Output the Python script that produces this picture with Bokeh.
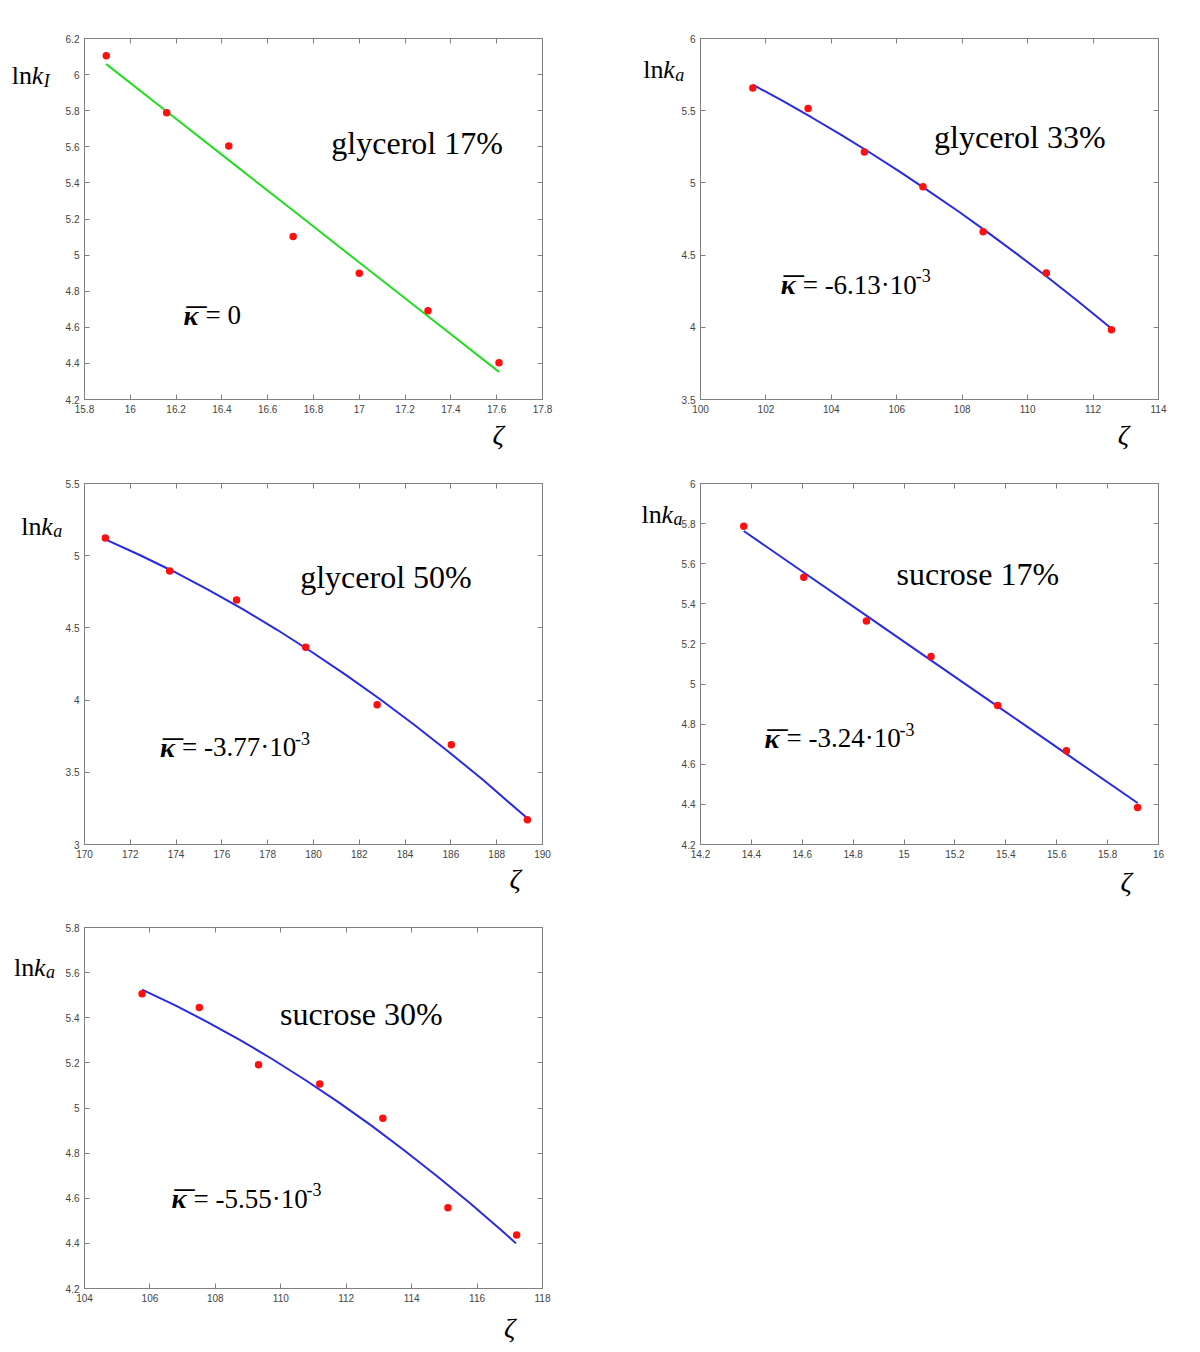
from bokeh.plotting import figure
from bokeh.models import Range1d, FixedTicker, LinearAxis, Label, GridBox
from bokeh.embed import file_html
from bokeh.resources import INLINE

# ---------------- data ----------------
# glycerol 17 %
g17_zeta = [15.895, 16.159, 16.43, 16.711, 17.0, 17.3, 17.61]
g17_lnk = [6.104, 5.789, 5.604, 5.103, 4.90, 4.692, 4.403]
g17_fit_zeta = [15.895, 16.159, 16.43, 16.711, 17.0, 17.3, 17.61]
g17_fit = [6.058, 5.796, 5.526, 5.247, 4.959, 4.661, 4.353]
g17_xticks = [15.8, 16, 16.2, 16.4, 16.6, 16.8, 17, 17.2, 17.4, 17.6, 17.8]
g17_xlabels = ["15.8", "16", "16.2", "16.4", "16.6", "16.8", "17", "17.2", "17.4", "17.6", "17.8"]
g17_yticks = [4.2, 4.4, 4.6, 4.8, 5, 5.2, 5.4, 5.6, 5.8, 6, 6.2]
g17_ylabels = ["4.2", "4.4", "4.6", "4.8", "5", "5.2", "5.4", "5.6", "5.8", "6", "6.2"]

# glycerol 33 %
g33_zeta = [101.6, 103.29, 105.01, 106.8, 108.64, 110.57, 112.56]
g33_lnk = [5.658, 5.515, 5.214, 4.974, 4.662, 4.376, 3.983]
g33_fit_zeta = [101.6, 102.5, 103.4, 104.3, 105.2, 106.1, 107.0, 107.9, 108.8, 109.7, 110.6, 111.5, 112.57]
g33_fit = [5.68, 5.569, 5.453, 5.332, 5.207, 5.076, 4.940, 4.800, 4.654, 4.503, 4.348, 4.187, 3.99]
g33_xticks = [100, 102, 104, 106, 108, 110, 112, 114]
g33_xlabels = ["100", "102", "104", "106", "108", "110", "112", "114"]
g33_yticks = [3.5, 4, 4.5, 5, 5.5, 6]
g33_ylabels = ["3.5", "4", "4.5", "5", "5.5", "6"]

# glycerol 50 %
g50_zeta = [170.91, 173.72, 176.64, 179.66, 182.78, 186.02, 189.34]
g50_lnk = [5.123, 4.894, 4.694, 4.366, 3.968, 3.69, 3.171]
g50_fit_zeta = [170.91, 172.41, 173.91, 175.41, 176.91, 178.41, 179.91, 181.41, 182.91, 184.41, 185.91, 187.41, 189.34]
g50_fit = [5.113, 5.005, 4.889, 4.764, 4.630, 4.487, 4.335, 4.175, 4.006, 3.828, 3.641, 3.446, 3.181]
g50_xticks = [170, 172, 174, 176, 178, 180, 182, 184, 186, 188, 190]
g50_xlabels = ["170", "172", "174", "176", "178", "180", "182", "184", "186", "188", "190"]
g50_yticks = [3, 3.5, 4, 4.5, 5, 5.5]
g50_ylabels = ["3", "3.5", "4", "4.5", "5", "5.5"]

# sucrose 17 %
s17_zeta = [14.37, 14.606, 14.852, 15.106, 15.368, 15.638, 15.918]
s17_lnk = [5.787, 5.532, 5.315, 5.138, 4.893, 4.668, 4.385]
s17_fit_zeta = [14.37, 14.606, 14.852, 15.106, 15.368, 15.638, 15.918]
s17_fit = [5.763, 5.556, 5.341, 5.118, 4.889, 4.652, 4.407]
s17_xticks = [14.2, 14.4, 14.6, 14.8, 15, 15.2, 15.4, 15.6, 15.8, 16]
s17_xlabels = ["14.2", "14.4", "14.6", "14.8", "15", "15.2", "15.4", "15.6", "15.8", "16"]
s17_yticks = [4.2, 4.4, 4.6, 4.8, 5, 5.2, 5.4, 5.6, 5.8, 6]
s17_ylabels = ["4.2", "4.4", "4.6", "4.8", "5", "5.2", "5.4", "5.6", "5.8", "6"]

# sucrose 30 %
s30_zeta = [105.76, 107.51, 109.32, 111.19, 113.12, 115.11, 117.21]
s30_lnk = [5.506, 5.445, 5.192, 5.106, 4.955, 4.558, 4.437]
s30_fit_zeta = [105.76, 106.76, 107.76, 108.76, 109.76, 110.76, 111.76, 112.76, 113.76, 114.76, 115.76, 116.76, 117.19]
s30_fit = [5.525, 5.456, 5.381, 5.301, 5.215, 5.123, 5.026, 4.923, 4.814, 4.700, 4.581, 4.456, 4.40]
s30_xticks = [104, 106, 108, 110, 112, 114, 116, 118]
s30_xlabels = ["104", "106", "108", "110", "112", "114", "116", "118"]
s30_yticks = [4.2, 4.4, 4.6, 4.8, 5, 5.2, 5.4, 5.6, 5.8]
s30_ylabels = ["4.2", "4.4", "4.6", "4.8", "5", "5.2", "5.4", "5.6", "5.8"]

titles = ["glycerol 17%", "glycerol 33%", "glycerol 50%", "sucrose 17%", "sucrose 30%"]
kappa_values = ["0", "-6.13\u00b710", "-3.77\u00b710", "-3.24\u00b710", "-5.55\u00b710"]
kappa_exps = [None, "-3", "-3", "-3", "-3"]
ylabel_subs = ["I", "a", "a", "a", "a"]
fit_colors = ["#22dd22", "#2a2ae0", "#2a2ae0", "#2a2ae0", "#2a2ae0"]

# ---------------- layout / styling ----------------
FRAME_W = 458
FRAME_H = 361
SERIF = "Liberation Serif"
AX_COL = "#808080"

panels = [
    dict(zeta=g17_zeta, lnk=g17_lnk, fz=g17_fit_zeta, fit=g17_fit, xt=g17_xticks, xl=g17_xlabels, yt=g17_yticks, yl=g17_ylabels,
         title_pos=(0.539, 0.71), kappa_pos=(0.216, 0.233), ylab_pos=(-0.159, 0.897), zeta_pos=(0.891, -0.097)),
    dict(zeta=g33_zeta, lnk=g33_lnk, fz=g33_fit_zeta, fit=g33_fit, xt=g33_xticks, xl=g33_xlabels, yt=g33_yticks, yl=g33_ylabels,
         title_pos=(0.510, 0.726), kappa_pos=(0.175, 0.318), ylab_pos=(-0.125, 0.914), zeta_pos=(0.911, -0.097)),
    dict(zeta=g50_zeta, lnk=g50_lnk, fz=g50_fit_zeta, fit=g50_fit, xt=g50_xticks, xl=g50_xlabels, yt=g50_yticks, yl=g50_ylabels,
         title_pos=(0.471, 0.741), kappa_pos=(0.165, 0.269), ylab_pos=(-0.138, 0.882), zeta_pos=(0.928, -0.093)),
    dict(zeta=s17_zeta, lnk=s17_lnk, fz=s17_fit_zeta, fit=s17_fit, xt=s17_xticks, xl=s17_xlabels, yt=s17_yticks, yl=s17_ylabels,
         title_pos=(0.428, 0.748), kappa_pos=(0.140, 0.294), ylab_pos=(-0.129, 0.915), zeta_pos=(0.917, -0.102)),
    dict(zeta=s30_zeta, lnk=s30_lnk, fz=s30_fit_zeta, fit=s30_fit, xt=s30_xticks, xl=s30_xlabels, yt=s30_yticks, yl=s30_ylabels,
         title_pos=(0.427, 0.761), kappa_pos=(0.19, 0.248), ylab_pos=(-0.154, 0.89), zeta_pos=(0.916, -0.107)),
]

# grid cell of each panel and figure borders (Bokeh's page template has no body margin)
cells = [(0, 0), (0, 1), (1, 0), (1, 1), (2, 0)]
col_widths = [600, 592]
col_border_left = [84, 100]
row_border_top = [38, 37, 36]
row_border_bottom = [47, 47, 58]
row_heights = [t + FRAME_H + b for t, b in zip(row_border_top, row_border_bottom)]


def style_axis(ax, ticks, labels, show_labels):
    ax.ticker = FixedTicker(ticks=ticks)
    ax.major_label_overrides = {t: l for t, l in zip(ticks, labels)}
    ax.axis_line_color = AX_COL
    ax.axis_line_width = 1
    ax.major_tick_line_color = AX_COL
    ax.major_tick_in = 5
    ax.major_tick_out = 0
    ax.minor_tick_line_color = None
    ax.major_label_text_font = "Liberation Sans"
    ax.major_label_text_font_size = "10px"
    ax.major_label_standoff = 5
    ax.major_label_text_color = "#444444" if show_labels else None


def make_panel(i):
    d = panels[i]
    r, c = cells[i]
    bl = col_border_left[c]
    bt = row_border_top[r]
    w = col_widths[c]
    x0, x1 = d["xt"][0], d["xt"][-1]
    y0, y1 = d["yt"][0], d["yt"][-1]
    p = figure(width=w, height=row_heights[r], output_backend="svg", toolbar_location=None,
               x_range=Range1d(x0, x1), y_range=Range1d(y0, y1),
               min_border_left=bl, min_border_right=w - bl - FRAME_W,
               min_border_top=bt, min_border_bottom=row_border_bottom[r])
    p.grid.visible = False
    p.outline_line_color = AX_COL
    p.background_fill_color = "white"
    p.border_fill_color = "white"
    style_axis(p.xaxis[0], d["xt"], d["xl"], True)
    style_axis(p.yaxis[0], d["yt"], d["yl"], True)
    top = LinearAxis()
    style_axis(top, d["xt"], d["xl"], False)
    p.add_layout(top, "above")
    right = LinearAxis()
    style_axis(right, d["yt"], d["yl"], False)
    p.add_layout(right, "right")

    p.line(d["fz"], d["fit"], line_color=fit_colors[i], line_width=2)
    p.scatter(d["zeta"], d["lnk"], size=7.5, fill_color="#ff1010", line_color=None)

    def pos(f):
        return x0 + f[0] * (x1 - x0), y0 + f[1] * (y1 - y0)

    # title
    tx, ty = pos(d["title_pos"])
    p.add_layout(Label(x=tx, y=ty, text=titles[i], text_font=SERIF, text_font_size="32px",
                       text_baseline="alphabetic", text_align="left", text_color="black"))
    # kappa with overbar
    kx, ky = pos(d["kappa_pos"])
    p.add_layout(Label(x=kx, y=ky, text="\u03ba", text_font=SERIF, text_font_size="28px",
                       text_font_style="bold italic", text_baseline="alphabetic", text_align="left",
                       text_color="black"))
    p.add_layout(Label(x=kx, y=ky, x_offset=3, y_offset=-8, text="\u00af", text_font=SERIF,
                       text_font_size="40px", text_baseline="alphabetic", text_align="left",
                       text_color="black"))
    p.add_layout(Label(x=kx, y=ky, x_offset=22, text="= " + kappa_values[i], text_font=SERIF,
                       text_font_size="27px", text_baseline="alphabetic", text_align="left",
                       text_color="black"))
    if kappa_exps[i]:
        p.add_layout(Label(x=kx, y=ky, x_offset=135, y_offset=9, text=kappa_exps[i], text_font=SERIF,
                           text_font_size="18px", text_baseline="alphabetic", text_align="left",
                           text_color="black"))
    return p


figs = [make_panel(i) for i in range(5)]

# transparent overlay covering the whole grid, for the texts that lie outside the plot frames
TOTAL_W = sum(col_widths)
TOTAL_H = sum(row_heights)
ov = figure(width=TOTAL_W, height=TOTAL_H, output_backend="svg", toolbar_location=None,
            x_range=Range1d(0, TOTAL_W), y_range=Range1d(TOTAL_H, 0),
            x_axis_type=None, y_axis_type=None,
            min_border_left=0, min_border_right=0, min_border_top=0, min_border_bottom=0)
ov.outline_line_color = None
ov.background_fill_color = None
ov.border_fill_color = None
if "frame_align" in ov.properties():
    ov.frame_align = False

for i, d in enumerate(panels):
    r, c = cells[i]
    fl = sum(col_widths[:c]) + col_border_left[c]
    ft = sum(row_heights[:r]) + row_border_top[r]
    lx = fl + d["ylab_pos"][0] * FRAME_W
    ly = ft + (1 - d["ylab_pos"][1]) * FRAME_H
    ov.add_layout(Label(x=lx, y=ly, text="ln", text_font=SERIF, text_font_size="26px",
                        text_baseline="alphabetic", text_align="left", text_color="black"))
    ov.add_layout(Label(x=lx, y=ly, x_offset=20, text="k", text_font=SERIF, text_font_size="26px",
                        text_font_style="italic", text_baseline="alphabetic", text_align="left",
                        text_color="black"))
    ov.add_layout(Label(x=lx, y=ly, x_offset=32, y_offset=-5, text=ylabel_subs[i], text_font=SERIF,
                        text_font_size="18px", text_font_style="italic", text_baseline="alphabetic",
                        text_align="left", text_color="black"))
    zx = fl + d["zeta_pos"][0] * FRAME_W
    zy = ft + (1 - d["zeta_pos"][1]) * FRAME_H
    ov.add_layout(Label(x=zx, y=zy, text="\u03b6", text_font=SERIF, text_font_size="28px",
                        text_font_style="italic", text_baseline="alphabetic", text_align="left",
                        text_color="black"))

children = [(figs[i], cells[i][0], cells[i][1]) for i in range(5)]
children.append((ov, 0, 0, 3, 2))
grid = GridBox(children=children, spacing=0)

open("out.html", "w").write(file_html(grid, INLINE))
